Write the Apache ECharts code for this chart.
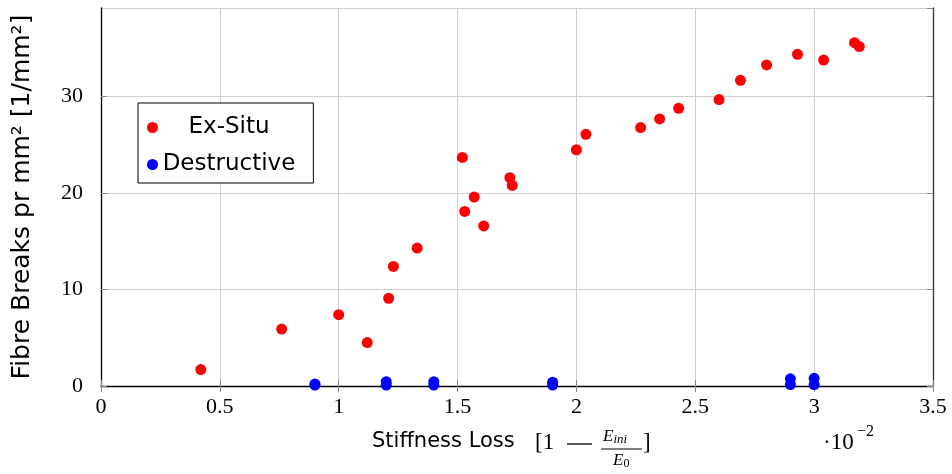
<!DOCTYPE html>
<html>
<head>
<meta charset="utf-8">
<script src="https://cdn.jsdelivr.net/npm/echarts@6/dist/echarts.min.js"></script>
<style>html,body{margin:0;padding:0;background:#fff;}#c{width:952px;height:474px;}</style>
</head>
<body>
<div id="c"></div>
<script>
const exSituX = [0.42,0.76,1.0,1.12,1.21,1.23,1.33,1.52,1.53,1.57,1.61,1.72,1.73,2.0,2.04,2.27,2.35,2.43,2.6,2.69,2.8,2.93,3.04,3.17,3.19];
const exSituY = [1.7,5.9,7.4,4.5,9.1,12.4,14.3,23.7,18.1,19.6,16.6,21.6,20.8,24.5,26.1,26.8,27.7,28.8,29.7,31.7,33.3,34.4,33.8,35.6,35.2];
const destructiveX = [0.9,0.9,1.2,1.2,1.4,1.4,1.9,1.9,2.9,2.9,3.0,3.0];
const destructiveY = [0.1,0.2,0.1,0.45,0.1,0.45,0.1,0.4,0.15,0.75,0.15,0.8];
const seriesNames = ['Ex-Situ','Destructive'];
const xTicks = {min:0,max:3.5,interval:0.5};
const yTicks = {min:0,max:39.2,interval:10};

const serif = "'Liberation Serif', 'DejaVu Serif', serif";
const sans = "'DejaVu Sans', sans-serif";

const chart = echarts.init(document.getElementById('c'), null, {renderer:'canvas'});
chart.setOption({
  animation:false,
  backgroundColor:'#fff',
  grid:{left:101,right:19,top:8,bottom:88,containLabel:false},
  legend:{
    data:seriesNames,
    orient:'vertical',
    left:138, top:103,
    backgroundColor:'#fff',
    borderColor:'#000', borderWidth:1,
    padding:[13,18,7,9],
    itemGap:14,
    itemWidth:11, itemHeight:11,
    icon:'circle',
    formatter:function(n){return '{c|'+n+'}';},
    textStyle:{fontFamily:sans,fontSize:23,color:'#000',
      rich:{c:{fontFamily:sans,fontSize:23,color:'#000',width:132,align:'center'}}}
  },
  xAxis:[{
    type:'value', min:xTicks.min, max:xTicks.max, interval:xTicks.interval,
    axisLine:{show:true,onZero:false,lineStyle:{color:'#000',width:1.3}},
    axisTick:{show:true,inside:true,length:6,lineStyle:{color:'#888'}},
    splitLine:{show:true,lineStyle:{color:'#cfcfcf',width:1}},
    axisLabel:{fontFamily:serif,fontSize:22,color:'#000',margin:10}
  },{
    type:'value', position:'top', min:xTicks.min, max:xTicks.max, interval:xTicks.interval,
    axisLine:{show:false}, axisTick:{show:true,inside:true,length:6,lineStyle:{color:'#888'}},
    axisLabel:{show:false}, splitLine:{show:false}
  }],
  yAxis:[{
    type:'value', min:yTicks.min, max:yTicks.max, interval:yTicks.interval,
    name:'Fibre Breaks pr mm² [1/mm²]', nameLocation:'middle', nameGap:66,
    nameTextStyle:{fontFamily:sans,fontSize:25,color:'#000'},
    axisLine:{show:true,onZero:false,lineStyle:{color:'#000',width:1.3}},
    axisTick:{show:true,inside:true,length:6,lineStyle:{color:'#888'}},
    splitLine:{show:true,lineStyle:{color:'#cfcfcf',width:1}},
    axisLabel:{fontFamily:serif,fontSize:22,color:'#000',margin:18,showMaxLabel:false}
  },{
    type:'value', position:'right', min:yTicks.min, max:yTicks.max, interval:yTicks.interval,
    axisLine:{show:true,onZero:false,lineStyle:{color:'#333',width:1.3}},
    axisTick:{show:true,inside:true,length:6,lineStyle:{color:'#888'}},
    axisLabel:{show:false}, splitLine:{show:false}
  }],
  series:[{
    name:seriesNames[0], type:'scatter', symbol:'circle', symbolSize:11,
    itemStyle:{color:'#ff0000',opacity:1},
    data:exSituX.map((x,i)=>[x,exSituY[i]]), z:3
  },{
    name:seriesNames[1], type:'scatter', symbol:'circle', symbolSize:11,
    itemStyle:{color:'#0000ff',opacity:1},
    data:destructiveX.map((x,i)=>[x,destructiveY[i]]), z:4
  }],
  graphic:[
    {type:'text', left:372, top:431, style:{text:'Stiffness Loss', fontFamily:sans, fontSize:21, fill:'#000'}},
    {type:'text', left:535, top:431, style:{text:'[1', fontFamily:serif, fontSize:23, fill:'#000'}},
    {type:'line', shape:{x1:567,y1:444,x2:592,y2:444}, style:{stroke:'#000',lineWidth:1.3}},
    {type:'text', left:603, top:428, style:{
      text:'{e|E}{sub|ini}', rich:{
        e:{fontFamily:serif,fontStyle:'italic',fontSize:17,fill:'#000'},
        sub:{fontFamily:serif,fontStyle:'italic',fontSize:13,fill:'#000',padding:[6,0,0,0]}
      }}},
    {type:'line', shape:{x1:601,y1:449,x2:642,y2:449}, style:{stroke:'#000',lineWidth:1}},
    {type:'text', left:613, top:452, style:{
      text:'{e|E}{sub|0}', rich:{
        e:{fontFamily:serif,fontStyle:'italic',fontSize:17,fill:'#000'},
        sub:{fontFamily:serif,fontSize:12,fill:'#000',padding:[6,0,0,0]}
      }}},
    {type:'text', left:643, top:431, style:{text:']', fontFamily:serif, fontSize:23, fill:'#000'}},
    {type:'text', left:823, top:431, style:{text:'·10', fontFamily:serif, fontSize:23, fill:'#000'}},
    {type:'text', left:857, top:424, style:{text:'−2', fontFamily:serif, fontSize:16, fill:'#000'}}
  ]
});
</script>
</body>
</html>
